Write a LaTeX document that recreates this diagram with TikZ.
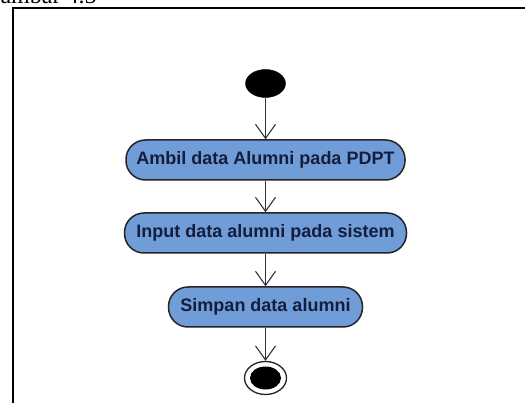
\documentclass[tikz,border=0pt]{standalone}
\usepackage{fontspec}
\setmainfont{Liberation Serif}
\setsansfont{Liberation Sans}
\usetikzlibrary{arrows.meta,shapes.geometric}
\definecolor{actfill}{RGB}{112,156,216}
\definecolor{actdraw}{RGB}{35,35,40}
\definecolor{acttext}{RGB}{20,30,60}
\begin{document}
\begin{tikzpicture}[x=1pt,y=-1pt,
  act/.style={rectangle, rounded corners=19.5pt, draw=actdraw, line width=1.5pt,
    fill=actfill, text=acttext, inner sep=0pt, minimum height=40pt,
    font=\sffamily\bfseries\fontsize{18}{21}\selectfont},
  flow/.style={draw=black!80, line width=1.1pt,
    -{Straight Barb[length=14pt,width=20pt,line width=1.1pt]}},
  startnode/.style={ellipse, fill=black, draw=black, inner sep=0pt,
    minimum width=40pt, minimum height=28pt},
  endouter/.style={ellipse, fill=white, draw=actdraw, line width=1.3pt, inner sep=0pt,
    minimum width=42pt, minimum height=33pt},
  endinner/.style={ellipse, fill=black, inner sep=0pt,
    minimum width=31pt, minimum height=23pt},
  frameline/.style={draw=black, line cap=rect}]
\useasboundingbox (0,0) rectangle (525,403);
\fill[white] (0,0) rectangle (525,403);
% frame and clipped caption
\node[anchor=base west, inner sep=0pt, font=\fontsize{24}{28}\selectfont] (title) at (-17,4) {Gambar 4.5};
\draw[frameline, line width=1.6pt] (13,8) -- (526,8);
\draw[frameline, line width=2.2pt] (13,8) -- (13,404);
% diagram
\node[startnode] (start) at (265.5,83.5) {};
\node[act, minimum width=279pt] (a1) at (265.5,160) {Ambil data Alumni pada PDPT};
\node[act, minimum width=282pt] (a2) at (265.5,233) {Input data alumni pada sistem};
\node[act, minimum width=194pt] (a3) at (265.5,307) {Simpan data alumni};
\node[endouter] (end) at (265.5,378) {};
\node[endinner] (endin) at (end.center) {};
\draw[flow] (start) -- (a1);
\draw[flow] (a1) -- (a2);
\draw[flow] (a2) -- (a3);
\draw[flow] (a3) -- (end);
\end{tikzpicture}
\end{document}
